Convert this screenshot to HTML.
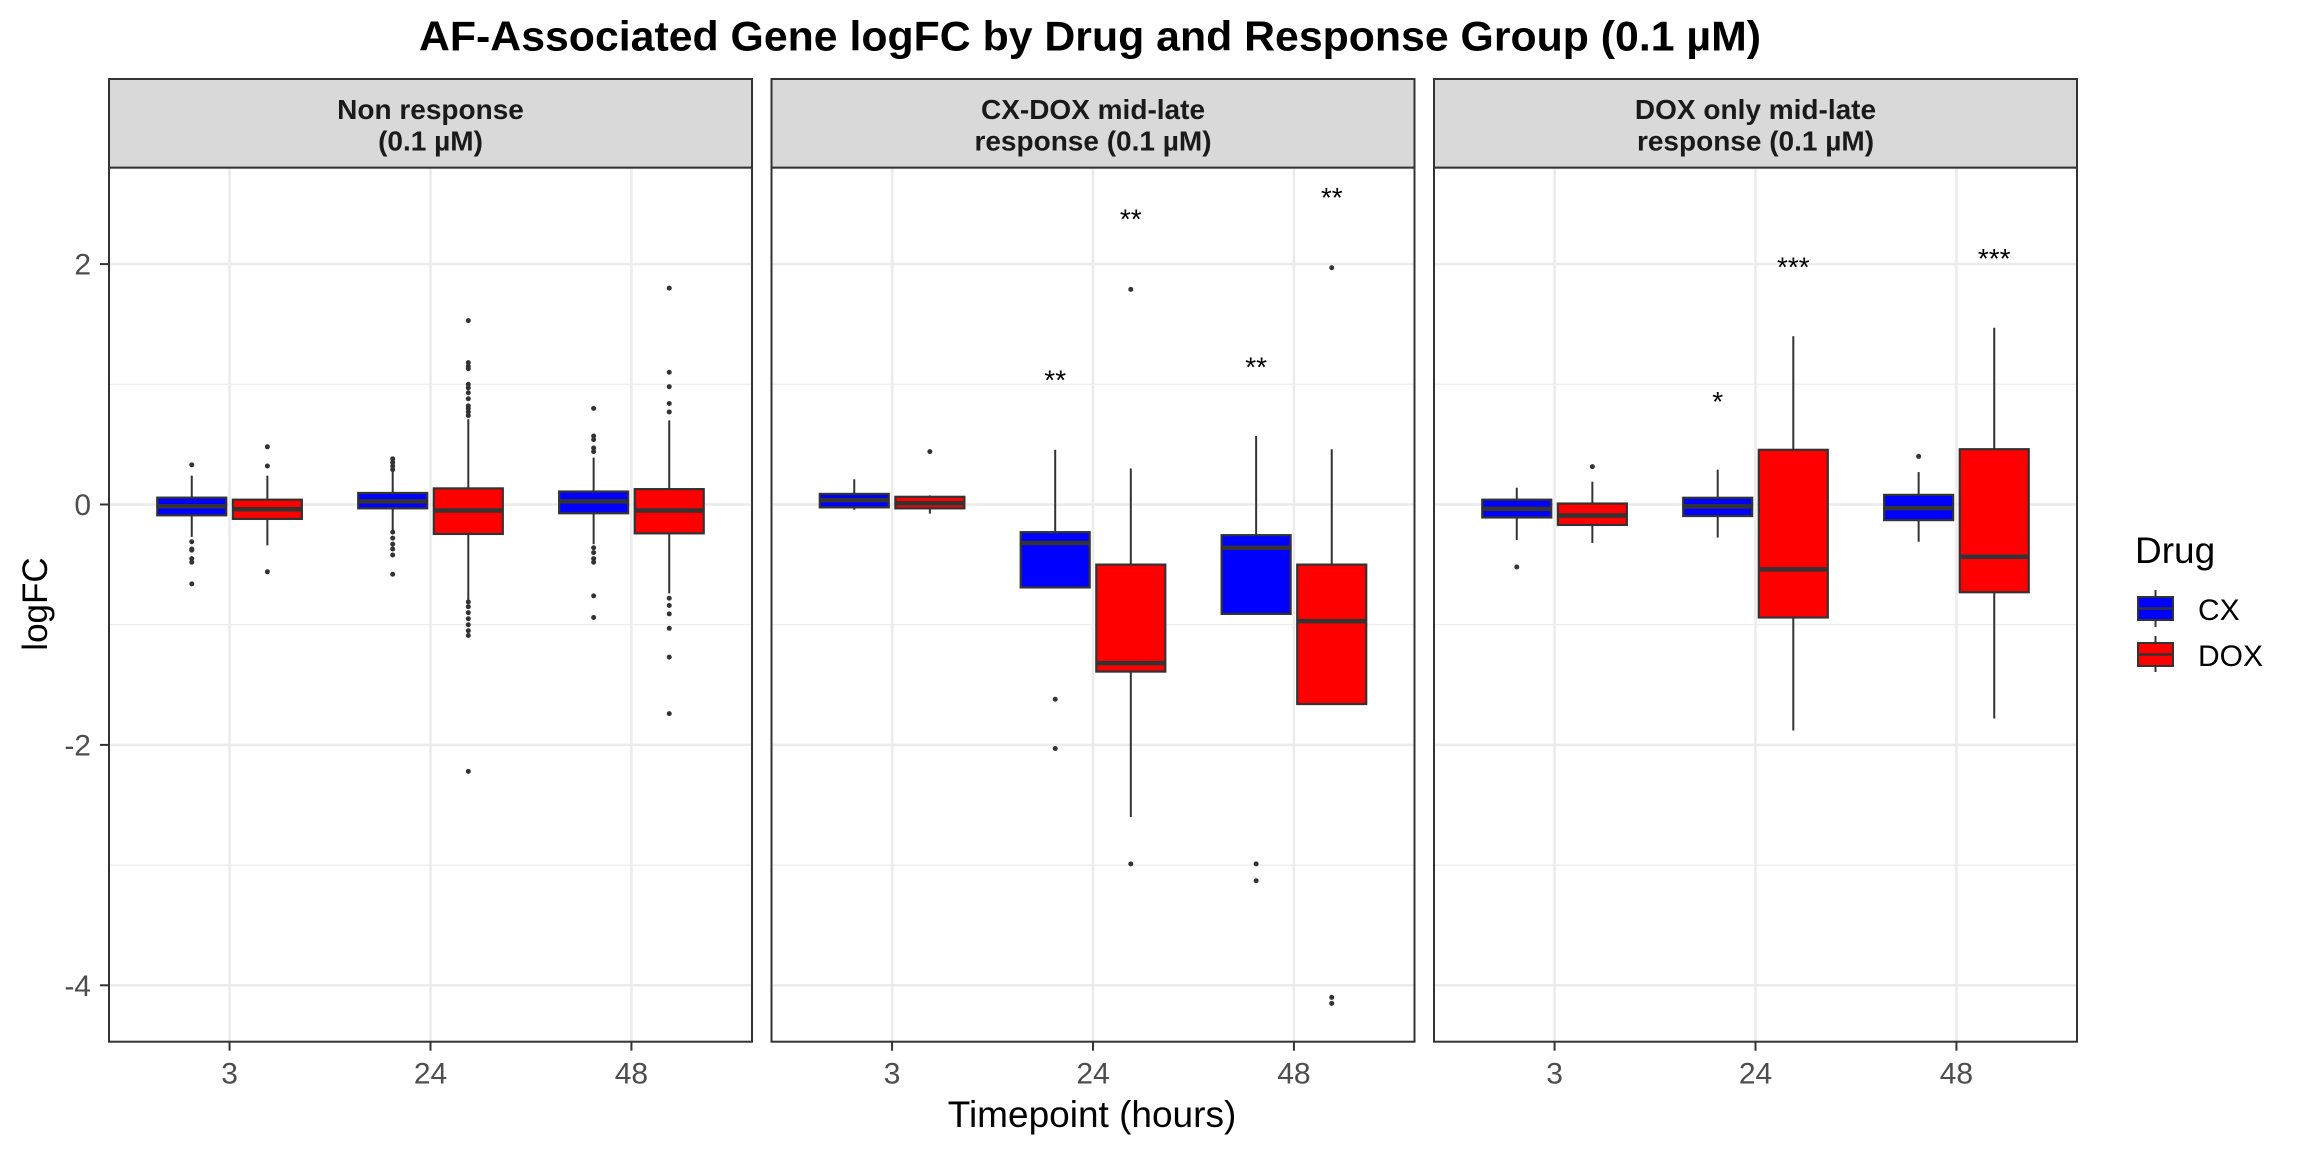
<!DOCTYPE html>
<html><head><meta charset="utf-8"><style>
html,body{margin:0;padding:0;background:#fff;}
svg{display:block;}
text{font-family:"Liberation Sans",sans-serif;}
</style></head><body>
<svg id="chart" width="2304" height="1152" viewBox="0 0 2304 1152" xmlns="http://www.w3.org/2000/svg">
<rect width="2304" height="1152" fill="#fff"/>
<text x="1090" y="50.5" text-anchor="middle" font-size="42" font-weight="bold" fill="#000" textLength="1342" lengthAdjust="spacingAndGlyphs">AF-Associated Gene logFC by Drug and Response Group (0.1 µM)</text>
<text transform="translate(47,604) rotate(-90)" text-anchor="middle" font-size="35" fill="#000">logFC</text>
<text x="1092" y="1127" text-anchor="middle" font-size="37" fill="#000">Timepoint (hours)</text>
<g id="panels"></g>
<g>
<text x="2135" y="563" font-size="37" fill="#000">Drug</text>
<g>
<line x1="2155.5" y1="590" x2="2155.5" y2="627" stroke="#333" stroke-width="2"/>
<rect x="2138" y="597" width="35" height="23" fill="#0000FF" stroke="#333" stroke-width="2"/>
<line x1="2138" y1="608.5" x2="2173" y2="608.5" stroke="#333" stroke-width="2.5"/>
<text x="2198" y="620" font-size="30" fill="#000">CX</text>
</g>
<g>
<line x1="2155.5" y1="636" x2="2155.5" y2="672" stroke="#333" stroke-width="2"/>
<rect x="2138" y="643" width="35" height="23" fill="#FF0000" stroke="#333" stroke-width="2"/>
<line x1="2138" y1="654.5" x2="2173" y2="654.5" stroke="#333" stroke-width="2.5"/>
<text x="2198" y="666" font-size="30" fill="#000">DOX</text>
</g>
</g>
</svg>
<script>
// ---- data ----
const panelTitles = [["Non response","(0.1 µM)"],["CX-DOX mid-late","response (0.1 µM)"],["DOX only mid-late","response (0.1 µM)"]];
const panelKeys = ["non-response","cx-dox-mid-late","dox-only-mid-late"];
const timepoints = ["3","24","48"];
const drugs = ["CX","DOX"];
const drugColors = ["#0000FF","#FF0000"];
const yTicks = [2,0,-2,-4];
const yMinor = [1,-1,-3];
// stats per panel: order [3CX,3DOX,24CX,24DOX,48CX,48DOX], each [lowWhisker,q1,median,q3,highWhisker]
const statsNonResponse = [[-0.27,-0.09,-0.015,0.057,0.24],[-0.34,-0.12,-0.04,0.04,0.24],[-0.22,-0.032,0.026,0.096,0.28],[-0.79,-0.245,-0.05,0.134,0.71],[-0.33,-0.073,0.026,0.108,0.39],[-0.74,-0.24,-0.05,0.128,0.70]];
const statsCxDox = [[-0.044,-0.024,0.036,0.088,0.21],[-0.076,-0.032,0.01,0.064,0.076],[-0.69,-0.69,-0.32,-0.23,0.455],[-2.60,-1.39,-1.32,-0.50,0.30],[-0.91,-0.91,-0.36,-0.255,0.57],[-1.66,-1.66,-0.97,-0.50,0.46]];
const statsDoxOnly = [[-0.295,-0.108,-0.036,0.04,0.14],[-0.32,-0.17,-0.092,0.008,0.19],[-0.275,-0.096,-0.016,0.056,0.29],[-1.88,-0.94,-0.54,0.455,1.40],[-0.31,-0.13,-0.03,0.08,0.27],[-1.78,-0.73,-0.435,0.46,1.47]];
const outliersNonResponse = [[0.33,-0.31,-0.37,-0.38,-0.45,-0.48,-0.66],[0.48,0.32,-0.56],[0.38,0.35,0.32,0.29,-0.23,-0.28,-0.33,-0.37,-0.42,-0.58],[1.53,1.18,1.15,1.13,1.0,0.97,0.93,0.88,0.82,0.80,0.77,0.74,-0.81,-0.85,-0.90,-0.95,-1.0,-1.05,-1.09,-2.22],[0.80,0.57,0.54,0.47,0.44,-0.36,-0.40,-0.45,-0.48,-0.76,-0.94],[1.80,1.10,0.98,0.84,0.77,-0.78,-0.84,-0.91,-1.03,-1.27,-1.74]];
const outliersCxDox = [[],[0.44],[-1.62,-2.03],[1.79,-2.99],[-2.99,-3.13],[1.97,-4.10,-4.15]];
const outliersDoxOnly = [[-0.52],[0.315],[],[],[0.40],[]];
// significance: [timepoint index, drug index, label, y value]
const sigNonResponse = [];
const sigCxDox = [[1,0,"**",1.09],[1,1,"**",2.43],[2,0,"**",1.2],[2,1,"**",2.61]];
const sigDoxOnly = [[1,0,"*",0.91],[1,1,"***",2.03],[2,1,"***",2.10]];

const allStats = [statsNonResponse, statsCxDox, statsDoxOnly];
const allOutliers = [outliersNonResponse, outliersCxDox, outliersDoxOnly];
const allSig = [sigNonResponse, sigCxDox, sigDoxOnly];

// ---- layout ----
const NS = "http://www.w3.org/2000/svg";
const panelLefts = [109, 771.5, 1434];
const panelW = 643, stripTop = 79, plotTop = 167.6, plotBottom = 1041.7;
const y0 = 504.5, yUnit = 120.2;
function yScale(v){ return y0 - v*yUnit; }
function xScale(left, i){ return left + panelW*(i + 1 - 0.4)/3.2; }
const dodge = 37.8, boxW = 69;

function mk(tag, attrs, parent){
  const e = document.createElementNS(NS, tag);
  for (const k in attrs) e.setAttribute(k, attrs[k]);
  parent.appendChild(e);
  return e;
}
const root = document.getElementById("panels");

panelLefts.forEach((left, p) => {
  const g = mk("g", {}, root);
  
  
  // background
  mk("rect", {x:left, y:plotTop, width:panelW, height:plotBottom-plotTop, fill:"#fff"}, g);
  // minor grid
  yMinor.forEach(v => {
    const l = mk("line", {x1:left, x2:left+panelW, y1:yScale(v), y2:yScale(v), stroke:"#EBEBEB", "stroke-width":1.2}, g);
    
    
  });
  // major grid
  yTicks.forEach(v => {
    const l = mk("line", {x1:left, x2:left+panelW, y1:yScale(v), y2:yScale(v), stroke:"#EBEBEB", "stroke-width":2.5}, g);
    
    
  });
  timepoints.forEach((t, i) => {
    const l = mk("line", {x1:xScale(left,i), x2:xScale(left,i), y1:plotTop, y2:plotBottom, stroke:"#EBEBEB", "stroke-width":2.5}, g);
    
    
  });
  // boxes
  const stats = allStats[p], outs = allOutliers[p];
  timepoints.forEach((t, i) => {
    drugs.forEach((d, j) => {
      const s = stats[i*2 + j];
      const cx = xScale(left, i) + (j === 0 ? -dodge : dodge);
      const bg = mk("g", {}, g);
      
      
      mk("line", {x1:cx, x2:cx, y1:yScale(s[4]), y2:yScale(s[3]), stroke:"#333", "stroke-width":2}, bg);
      mk("line", {x1:cx, x2:cx, y1:yScale(s[1]), y2:yScale(s[0]), stroke:"#333", "stroke-width":2}, bg);
      mk("rect", {x:cx-boxW/2, y:yScale(s[3]), width:boxW, height:Math.max(0.5, yScale(s[1])-yScale(s[3])), fill:drugColors[j], stroke:"#333", "stroke-width":2.2}, bg);
      mk("line", {x1:cx-boxW/2, x2:cx+boxW/2, y1:yScale(s[2]), y2:yScale(s[2]), stroke:"#333", "stroke-width":4.5}, bg);
      outs[i*2 + j].forEach(v => {
        const c = mk("circle", {cx:cx, cy:yScale(v), r:2.5, fill:"#333"}, bg);
        
        
      });
    });
  });
  // significance labels
  allSig[p].forEach(sg => {
    const cx = xScale(left, sg[0]) + (sg[1] === 0 ? -dodge : dodge);
    const tx = mk("text", {x:cx, y:yScale(sg[3]) + 16, "text-anchor":"middle", "font-size":28, fill:"#000"}, g);
    tx.textContent = sg[2];
    
    
  });
  // border
  mk("rect", {x:left, y:plotTop, width:panelW, height:plotBottom-plotTop, fill:"none", stroke:"#333", "stroke-width":2}, g);
  // strip
  const st = mk("g", {}, g);
  
  
  mk("rect", {x:left, y:stripTop, width:panelW, height:plotTop-stripTop, fill:"#D9D9D9", stroke:"#333", "stroke-width":2}, st);
  panelTitles[p].forEach((line, k) => {
    const tx = mk("text", {x:left+panelW/2, y:118.8 + k*31.5, "text-anchor":"middle", "font-size":28, "font-weight":"bold", fill:"#1A1A1A"}, st);
    tx.textContent = line;
    
    
  });
  // x ticks
  timepoints.forEach((t, i) => {
    const x = xScale(left, i);
    mk("line", {x1:x, x2:x, y1:plotBottom, y2:plotBottom+9, stroke:"#333", "stroke-width":2}, g);
    const tx = mk("text", {x:x, y:1083.3, "text-anchor":"middle", "font-size":30, fill:"#4D4D4D"}, g);
    tx.textContent = t;
    
    
  });
  // y axis on first panel only
  if (p === 0) {
    yTicks.forEach(v => {
      mk("line", {x1:left-9, x2:left, y1:yScale(v), y2:yScale(v), stroke:"#333", "stroke-width":2}, g);
      const tx = mk("text", {x:91, y:yScale(v)+10.5, "text-anchor":"end", "font-size":30, fill:"#4D4D4D"}, g);
      tx.textContent = String(v);
      
      
    });
  }
});
</script>
</body></html>
